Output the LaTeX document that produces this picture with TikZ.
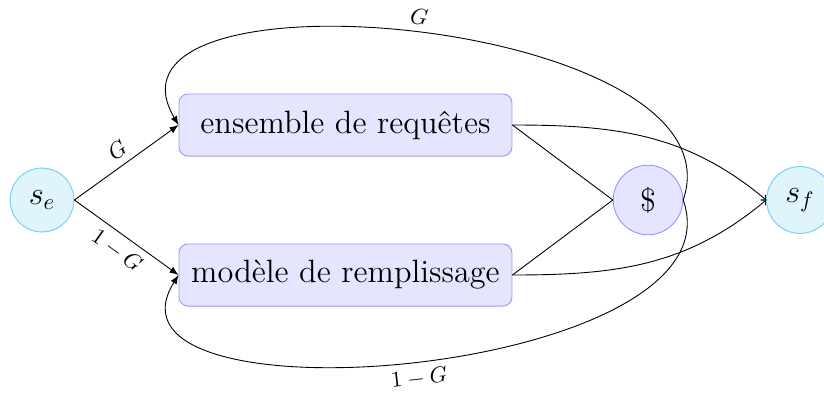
\documentclass[tikz,border=0pt]{standalone}
\usetikzlibrary{arrows}
\definecolor{sfill}{RGB}{224,244,251}
\definecolor{sdraw}{RGB}{110,208,240}
\definecolor{bfill}{RGB}{229,229,255}
\definecolor{bdraw}{RGB}{150,150,255}
\tikzset{
  statenode/.style={circle, draw=sdraw, fill=sfill, minimum size=28.5pt, inner sep=0pt, font=\Large},
  boxnode/.style={rectangle, rounded corners=4pt, draw=bdraw, fill=bfill, minimum width=148.5pt, minimum height=27.7pt, inner sep=0pt, font=\Large},
  dollarnode/.style={circle, draw=bdraw, fill=bfill, minimum size=31pt, inner sep=0pt, font=\Large},
  edgelabel/.style={font=\normalsize}
}
\begin{document}
\begin{tikzpicture}[x=0.446pt, y=-0.446pt]
\useasboundingbox (0,0) rectangle (824,399);
\node[statenode] (se) at (42,200) {$s_e$};
\node[statenode, minimum size=29.8pt] (sf) at (800,200) {$s_f$};
\node[boxnode] (b1) at (345.5,125) {ensemble de requêtes};
\node[boxnode] (b2) at (345.5,275) {modèle de remplissage};
\node[dollarnode] (d) at (648,200) {\$};
\draw[-latex] (se.east) -- node[sloped, above, edgelabel] {$G$} (b1.west);
\draw[-latex] (se.east) -- node[sloped, below, edgelabel] {$1-G$} (b2.west);
\draw (b1.east) -- (d.west);
\draw (b2.east) -- (d.west);
\draw[->] (b1.east) to[out=0, in=140] (sf.west);
\draw[->] (b2.east) to[out=0, in=-140] (sf.west);
\draw[-latex] (d.east) .. controls +(62,-182) and +(-98,-165) .. node[pos=0.5, above, sloped, edgelabel] {$G$} (b1.west);
\draw[-latex] (d.east) .. controls +(62,176) and +(-98,155) .. node[pos=0.5, below, sloped, edgelabel] {$1-G$} (b2.west);
\end{tikzpicture}
\end{document}
